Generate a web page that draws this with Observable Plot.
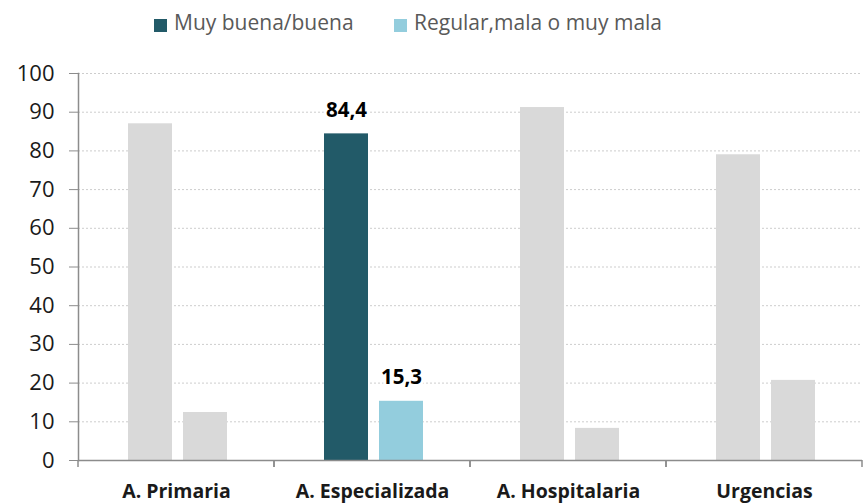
<!DOCTYPE html>
<html><head><meta charset="utf-8">
<script src="https://cdn.jsdelivr.net/npm/d3@7"></script>
<script src="https://cdn.jsdelivr.net/npm/@observablehq/plot@0.6"></script>
<style>
body{margin:0;background:#fff;font-family:"Open Sans",sans-serif}
#legend{position:relative;height:50px;width:865px}
.sw{position:absolute;top:19px;width:13px;height:13px}
.lt{position:absolute;top:12px;font-size:21px;line-height:21px;color:#595959;white-space:nowrap}
</style></head>
<body>
<div id="legend"></div>
<div id="chart"></div>
<script>
const categories = ["A. Primaria", "A. Especializada", "A. Hospitalaria", "Urgencias"];
const series = ["Muy buena/buena", "Regular,mala o muy mala"];
const buena = [87.0, 84.4, 91.2, 79.0];
const mala = [12.4, 15.3, 8.3, 20.7];
const yTicks = [0, 10, 20, 30, 40, 50, 60, 70, 80, 90, 100];
const highlight = "A. Especializada";
const seriesColors = ["#225a68", "#93cddd"];
const gray = "#d9d9d9";

const data = categories.flatMap((c, i) => [
  {cat: c, serie: series[0], value: buena[i]},
  {cat: c, serie: series[1], value: mala[i]}
]);
const fmt = v => v.toFixed(1).replace(".", ",");

// legend
const legend = document.getElementById("legend");
const legendPos = [[154, 174], [394, 414]];
series.forEach((s, i) => {
  const sw = document.createElement("div");
  sw.className = "sw"; sw.style.left = legendPos[i][0] + "px"; sw.style.background = seriesColors[i];
  legend.appendChild(sw);
  const t = document.createElement("span");
  t.className = "lt"; t.style.left = legendPos[i][1] + "px"; t.textContent = s;
  legend.appendChild(t);
});

const axisColor = "#8c8c8c";
const boundaryTicks = (index, scales, values, dims) => {
  const g = d3.create("svg:g");
  const y0 = scales.y(0);
  [dims.marginLeft, dims.width - dims.marginRight].forEach(x => {
    g.append("line").attr("x1", x).attr("x2", x).attr("y1", y0).attr("y2", y0 + 7)
      .attr("stroke", axisColor).attr("stroke-width", 1.5);
  });
  return g.node();
};

const chart = Plot.plot({
  width: 865, height: 454,
  marginLeft: 77, marginRight: 2, marginTop: 23, marginBottom: 44,
  style: {fontFamily: "'Open Sans', sans-serif", background: "white", color: "#1a1a1a"},
  fx: {domain: categories, padding: 0},
  x: {domain: series, paddingInner: 0.196, paddingOuter: 0.852, align: 0.52, axis: null},
  y: {domain: [0, 100]},
  marks: [
    Plot.ruleY(yTicks.filter(t => t > 0), {stroke: "#cdcdcd", strokeDasharray: "2,2"}),
    Plot.barY(data, {fx: "cat", x: "serie", y: "value",
      fill: d => d.cat === highlight ? seriesColors[series.indexOf(d.serie)] : gray}),
    Plot.ruleY([0], {stroke: axisColor, strokeWidth: 1.5}),
    Plot.frame({anchor: "left", facetAnchor: "left", stroke: axisColor, strokeWidth: 1.5}),
    boundaryTicks,
    Plot.axisY({ticks: yTicks, tickSize: 9, tickPadding: 15, fontSize: 22, stroke: axisColor, label: null}),
    Plot.axisFx({anchor: "bottom", tickSize: 0, tickPadding: 24, fontSize: 19.5, fontWeight: "bold", label: null}),
    Plot.text(data.filter(d => d.cat === highlight), {fx: "cat", x: "serie", y: "value",
      text: d => fmt(d.value), lineAnchor: "bottom", dy: -17, fontWeight: "bold", fontSize: 20.5,
      fill: "#000", stroke: "white", strokeWidth: 6})
  ]
});
document.getElementById("chart").appendChild(chart);
</script>
</body></html>
